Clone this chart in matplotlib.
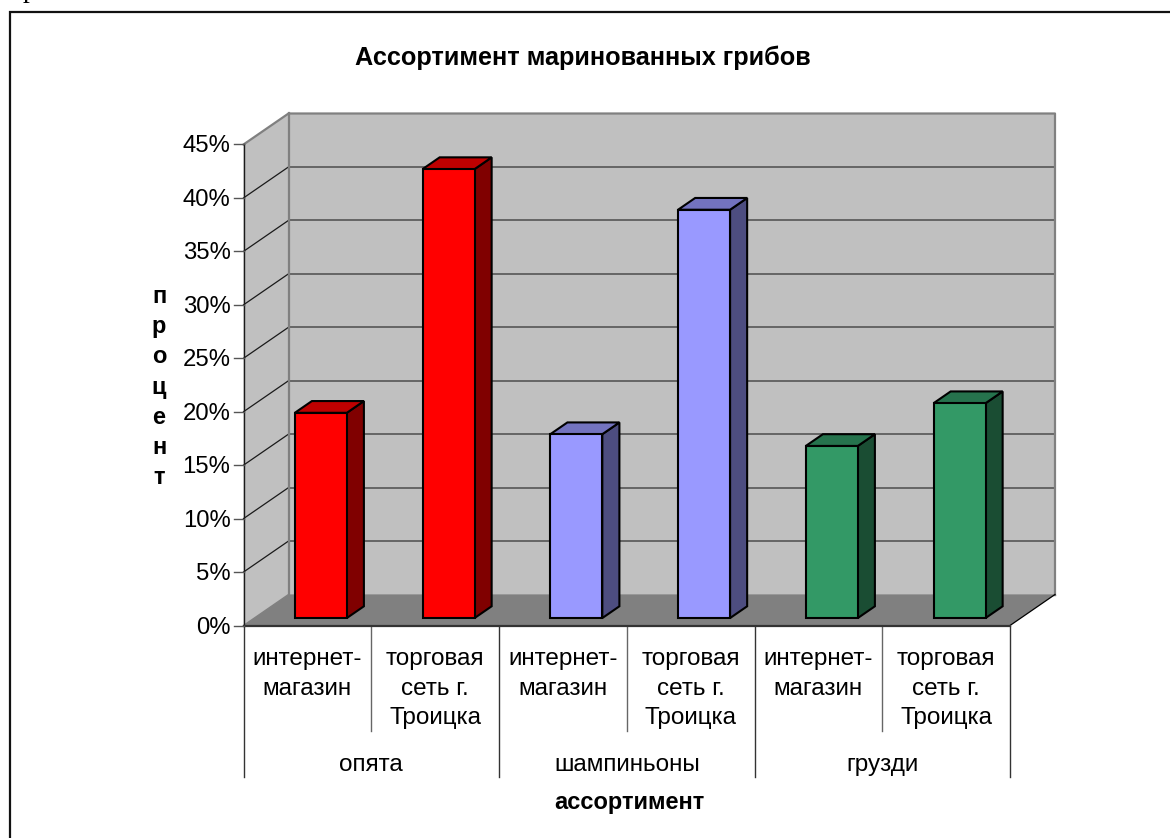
import matplotlib.pyplot as plt
from matplotlib.lines import Line2D
from matplotlib.patches import Polygon

plt.rcParams['font.family'] = ['Liberation Sans', 'DejaVu Sans']

W, H = 1170, 838

# data
title = 'Ассортимент маринованных грибов'
x_title = 'ассортимент'
y_title = 'процент'
sub_labels = ['интернет-\nмагазин', 'торговая\nсеть г.\nТроицка'] * 3
groups = ['опята', 'шампиньоны', 'грузди']
values = [19.2, 42.0, 17.2, 38.2, 16.1, 20.1]
y_ticks = [0, 5, 10, 15, 20, 25, 30, 35, 40, 45]

front_colors = ['#ff0000', '#ff0000', '#9999ff', '#9999ff', '#339966', '#339966']
top_colors = ['#bf0000', '#bf0000', '#7373bf', '#7373bf', '#26734d', '#26734d']
side_colors = ['#800000', '#800000', '#4d4d80', '#4d4d80', '#1a4d33', '#1a4d33']

# plot box in pixels
X0, X1 = 243.5, 1010.0
Y0, Y45 = 625.5, 144.5
PX_X = (X1 - X0) / 6
PX_Y = (Y0 - Y45) / 45

# oblique depth of the 3d box, in data units
DX = 45 / PX_X
DY = 31 / PX_Y


def proj(x, y, d):
    return x + d * DX, y + d * DY


def face(ax, pts, color, edge='none', lw=0, z=1):
    ax.add_patch(Polygon(pts, closed=True, facecolor=color, edgecolor=edge, linewidth=lw,
                         joinstyle='miter', clip_on=False, zorder=z))


def fig_text(px, py, s, **kw):
    fig.text(px / W, 1 - py / H, s, ha='center', va='center', color='black', **kw)


fig = plt.figure(figsize=(W / 100, H / 100), dpi=100, facecolor='white')
ax = fig.add_axes([X0 / W, 1 - Y0 / H, (X1 - X0) / W, (Y0 - Y45) / H])
ax.set_xlim(0, 6)
ax.set_ylim(0, 45)
ax.axis('off')

# walls and floor
face(ax, [proj(0, 0, 1), proj(6, 0, 1), proj(6, 45, 1), proj(0, 45, 1)], '#c0c0c0')
face(ax, [proj(0, 0, 0), proj(0, 0, 1), proj(0, 45, 1), proj(0, 45, 0)], '#c0c0c0')
face(ax, [proj(0, 0, 0), proj(6, 0, 0), proj(6, 0, 1), proj(0, 0, 1)], '#808080')

# gridlines
for t in y_ticks[1:-1]:
    bx, by = proj(0, t, 1)
    ex, _ = proj(6, t, 1)
    ax.plot([0, bx], [t, by], color='#1a1a1a', lw=0.9, clip_on=False, zorder=2)
    ax.plot([bx, ex], [by, by], color='#4d4d4d', lw=1.1, clip_on=False, zorder=2)

# wall outlines
tlx, tly = proj(0, 45, 1)
trx, try_ = proj(6, 45, 1)
blx, bly = proj(0, 0, 1)
brx, bry = proj(6, 0, 1)
ax.plot([0, tlx, trx, brx], [45, tly, try_, bry], color='#808080', lw=1.6, clip_on=False, zorder=2)
ax.plot([blx, blx], [bly, tly], color='#808080', lw=1.6, clip_on=False, zorder=2)
ax.plot([blx, brx], [bly, bry], color='#808080', lw=1.0, clip_on=False, zorder=2)
ax.plot([0, blx], [0, bly], color='#808080', lw=1.0, clip_on=False, zorder=2)
ax.plot([6, brx], [0, bry], color='black', lw=0.9, clip_on=False, zorder=2)
ax.plot([0, 0], [0, 45], color='#1a1a1a', lw=1.0, clip_on=False, zorder=3)
ax.plot([0, 6], [0, 0], color='#333333', lw=1.6, clip_on=False, zorder=3)

# y ticks
tick_len = 10 / PX_X
for t in y_ticks:
    ax.plot([-tick_len, 0], [t, t], color='#555555', lw=1.0, clip_on=False, zorder=3)
    ax.text(-13 / PX_X, t - 2 / PX_Y, f'{t}%', ha='right', va='center', fontsize=17.2,
            color='black', clip_on=False)

# bars
bar_left = 40.5 / PX_X
bar_w = 52 / PX_X
d0, d1 = 0.24, 0.62
for i, v in enumerate(values):
    l = i + bar_left
    r = l + bar_w
    face(ax, [proj(r, 0, d0), proj(r, 0, d1), proj(r, v, d1), proj(r, v, d0)],
         side_colors[i], 'black', 1.5, 4)
    face(ax, [proj(l, v, d0), proj(r, v, d0), proj(r, v, d1), proj(l, v, d1)],
         top_colors[i], 'black', 1.5, 4)
    face(ax, [proj(l, 0, d0), proj(r, 0, d0), proj(r, v, d0), proj(l, v, d0)],
         front_colors[i], 'black', 1.5, 5)

# category separators below the floor
y_short = -(731 - Y0) / PX_Y
y_long = -(777 - Y0) / PX_Y
for x in range(7):
    if x % 2:
        ax.plot([x, x], [0, y_short], color='#666666', lw=1.0, clip_on=False)
    else:
        ax.plot([x, x], [0, y_long], color='#333333', lw=1.0, clip_on=False)

# category labels
for i, lab in enumerate(sub_labels):
    ax.text(i + 0.5, -(648 - Y0) / PX_Y, lab, ha='center', va='top', fontsize=17.5,
            linespacing=1.45, clip_on=False)
for i, g in enumerate(groups):
    ax.text(2 * i + 1, -(765 - Y0) / PX_Y, g, ha='center', va='center', fontsize=17.5,
            clip_on=False)

fig_text(583, 58, title, fontsize=18.2, fontweight='bold')
fig_text(629, 802, x_title, fontsize=17, fontweight='bold')
fig_text(159, 387, '\n'.join(y_title), fontsize=17, fontweight='bold', linespacing=1.4)

# frame of the embedded chart: runs off the right and bottom of the scan
fig.add_artist(Line2D([9.5 / W, 9.5 / W, 1], [0, 1 - 12.5 / H, 1 - 12.5 / H], color='#111111',
                      lw=1.6, solid_joinstyle='miter'))

# bit of body text cut off by the top edge of the scan
fig.text(23 / W, 1 + 3 / H, 'р', family='Liberation Serif', fontsize=20, ha='left',
         va='baseline', color='black')

fig.savefig('out.png', dpi=100)
